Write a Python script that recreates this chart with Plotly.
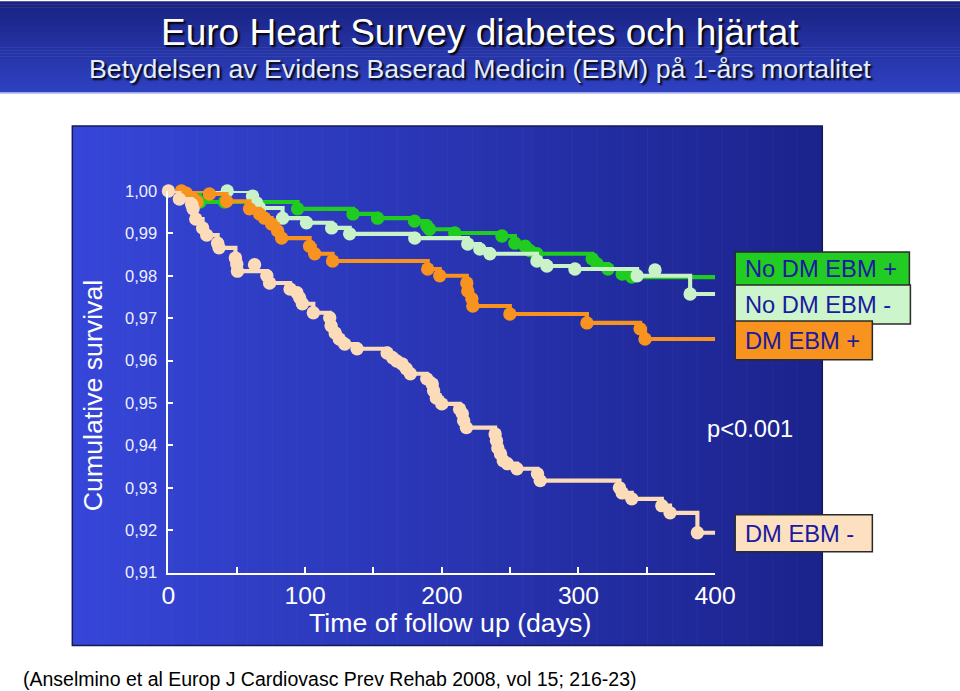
import plotly.graph_objects as go

# ---------------- data ----------------
# No DM EBM +  (bright green)
green_t = [23, 94.5, 135, 153, 180, 189, 191, 209.5, 244, 253.5, 261, 264.5, 269.6, 310, 313.6, 321.6, 332, 339]
green_s = [0.9974, 0.9958, 0.9946, 0.9936, 0.9929, 0.9918, 0.9910, 0.9901, 0.9894, 0.9877, 0.9870, 0.9859,
           0.9852, 0.9840, 0.9828, 0.9816, 0.9804, 0.9797]
green_ct = [41]
green_cs = [0.9974]

# No DM EBM -  (light green)
lgreen_t = [61.5, 64.5, 66.7, 83.5, 101, 119.4, 132.6, 180.2, 219, 227.8, 235.2, 269.6, 276.9, 297.4, 342.9, 381.7]
lgreen_s = [0.9988, 0.9972, 0.9960, 0.9936, 0.9925, 0.9913, 0.9899, 0.9889, 0.9875, 0.9863, 0.9852, 0.9835,
            0.9823, 0.9816, 0.9800, 0.9757]
lgreen_ct = [43, 356]
lgreen_cs = [1.0, 0.9814]

# DM EBM +  (orange)
orange_t = [30, 42.5, 59.3, 66.7, 70.3, 75.5, 79.9, 82.8, 103.3, 107, 120.1, 189.7, 198.5, 218.3, 219, 222, 222.7,
            249.8, 306.2, 345.1, 348.7]
orange_s = [0.9993, 0.9976, 0.9958, 0.9946, 0.9936, 0.9922, 0.9906, 0.9889, 0.9870, 0.9852, 0.9835, 0.9816, 0.9800,
            0.9783, 0.9764, 0.9746, 0.9729, 0.9710, 0.9689, 0.9675, 0.9651]
orange_ct = [9.5, 13, 17.6, 21]
orange_cs = [1.0, 0.9995, 0.9984, 0.9974]

# DM EBM -  (peach)
peach_t = [8, 17, 18, 20, 25, 28, 36, 37, 49, 50, 50.5, 72, 74, 89, 94, 96, 98, 106, 118, 119, 122, 125, 129, 138,
           160, 164, 167, 171, 174, 177, 189, 193, 194, 196, 200, 213, 215, 216, 218, 239, 240, 241, 243, 245, 248,
           255, 270, 272, 330, 332, 339, 361, 367, 387]
peach_s = [0.9981, 0.9969, 0.9958, 0.9934, 0.9913, 0.9896, 0.9877, 0.9866, 0.9842, 0.9828, 0.9811, 0.9800, 0.9783,
           0.9769, 0.9760, 0.9748, 0.9734, 0.9713, 0.9701, 0.9682, 0.9665, 0.9651, 0.9639, 0.9628, 0.9618, 0.9607,
           0.9599, 0.9592, 0.9581, 0.9569, 0.9557, 0.9545, 0.9529, 0.9512, 0.9498, 0.9486, 0.9475, 0.9458, 0.9442,
           0.9427, 0.9411, 0.9394, 0.9380, 0.9364, 0.9357, 0.9345, 0.9333, 0.9317, 0.9300, 0.9288, 0.9274, 0.9258,
           0.9241, 0.9194]
peach_ct = [0, 63]
peach_cs = [1.0, 0.9826]

follow_up_end = 400
x_tickvals = [0, 50, 100, 150, 200, 250, 300, 350, 400]
x_ticktext = ["0", "", "100", "", "200", "", "300", "", "400"]
y_tickvals = [0.91, 0.92, 0.93, 0.94, 0.95, 0.96, 0.97, 0.98, 0.99, 1.00]
y_ticktext = ["0,91", "0,92", "0,93", "0,94", "0,95", "0,96", "0,97", "0,98", "0,99", "1,00"]

groups = [
    ("No DM EBM +", green_t, green_s, green_ct, green_cs, "#1fcc1f"),
    ("No DM EBM -", lgreen_t, lgreen_s, lgreen_ct, lgreen_cs, "#c9f2c9"),
    ("DM EBM +", orange_t, orange_s, orange_ct, orange_cs, "#f7931e"),
    ("DM EBM -", peach_t, peach_s, peach_ct, peach_cs, "#fcdcb8"),
]

# ---------------- layout helpers ----------------
# The photographed page appears scaled by ~0.97 and the body keeps an 8px margin;
# positions below are given in target-picture pixels and converted.
KX, KY = 0.970, 0.975
FS = 1 / 0.972
OFF = 8
W = round(960 / KX - 2 * OFF)
H = round(691 / KY - 2 * OFF)


def PX(x):
    return (x / KX - OFF) / W


def PY(y):
    return 1 - (y / KY - OFF) / H


def fs(v):
    return round(v * FS, 1)


def mix(c1, c2, f):
    a = [int(c1[i:i + 2], 16) for i in (1, 3, 5)]
    b = [int(c2[i:i + 2], 16) for i in (1, 3, 5)]
    return "#%02x%02x%02x" % tuple(round(a[k] + (b[k] - a[k]) * f) for k in range(3))


FONT = "Liberation Sans, Arial"
fig = go.Figure()

for name, t, s, ct, cs, col in groups:
    fig.add_trace(go.Scatter(
        x=[0] + t + [follow_up_end], y=[1.0] + s + [s[-1]], mode="lines",
        line=dict(color=col, width=fs(4), shape="hv"), cliponaxis=False, showlegend=False, hoverinfo="skip"))
    fig.add_trace(go.Scatter(
        x=t + ct, y=s + cs, mode="markers", marker=dict(color=col, size=fs(13), line=dict(width=0)),
        cliponaxis=False, showlegend=False, name=name))

shapes = []
# header band (vertical gradient)
n = 30
for i in range(n):
    y0 = 92 * i / n
    y1 = 92 * (i + 1) / n + 0.5
    shapes.append(dict(type="rect", xref="paper", yref="paper", x0=PX(0), x1=PX(960), y0=PY(y1), y1=PY(y0),
                       fillcolor=mix("#1a2382", "#2e41c2", i / (n - 1)), line=dict(width=0), layer="below"))
shapes.append(dict(type="line", xref="paper", yref="paper", x0=PX(0), x1=PX(960), y0=PY(92), y1=PY(92),
                   line=dict(color="#c8d0f0", width=1.5), layer="below"))
# plot panel (horizontal gradient)
n = 60
xl, xr, yt, yb = 73, 822, 125, 645
for i in range(n):
    x0 = xl + (xr - xl) * i / n
    x1 = xl + (xr - xl) * (i + 1) / n + 0.6
    shapes.append(dict(type="rect", xref="paper", yref="paper", x0=PX(x0), x1=PX(min(x1, xr)), y0=PY(yb),
                       y1=PY(yt), fillcolor=mix("#3646d8", "#1b238c", i / (n - 1)), line=dict(width=0),
                       layer="below"))
shapes.append(dict(type="rect", xref="paper", yref="paper", x0=PX(xl), x1=PX(xr), y0=PY(yb), y1=PY(yt),
                   line=dict(color="#151a55", width=1.5), fillcolor="rgba(0,0,0,0)", layer="below"))

# legend boxes
boxes = [
    (735, 909, 251, 285, "#22cc22", "No DM EBM +", 268),
    (735, 910, 284, 323, "#ccf5cc", "No DM EBM -", 304),
    (735, 872, 320, 359, "#f7931e", "DM EBM +", 340),
    (735, 872, 514, 551, "#fde0c0", "DM EBM -", 533),
]
annotations = []
for x0, x1, y0, y1, fc, label, yc in boxes:
    shapes.append(dict(type="rect", xref="paper", yref="paper", x0=PX(x0), x1=PX(x1), y0=PY(y1), y1=PY(y0),
                       fillcolor=fc, line=dict(color="#2a2a2a", width=1.5), layer="above"))
    annotations.append(dict(xref="paper", yref="paper", x=PX(743), y=PY(yc), xanchor="left", yanchor="middle",
                            text=label, showarrow=False, font=dict(family=FONT, size=fs(23), color="#1a1aa0")))

annotations += [
    dict(xref="paper", yref="paper", x=PX(480), y=PY(31), text="Euro Heart Survey diabetes och hjärtat",
         showarrow=False, xanchor="center", yanchor="middle",
         font=dict(family=FONT, size=fs(36), color="white", shadow="2px 2px 2px #000000")),
    dict(xref="paper", yref="paper", x=PX(480), y=PY(68),
         text="Betydelsen av Evidens Baserad Medicin (EBM) på 1-års mortalitet",
         showarrow=False, xanchor="center", yanchor="middle",
         font=dict(family=FONT, size=fs(26), color="#e4ecff", shadow="2px 2px 2px #000000")),
    dict(xref="paper", yref="paper", x=PX(93), y=PY(395), text="Cumulative survival", textangle=-90,
         showarrow=False, xanchor="center", yanchor="middle",
         font=dict(family=FONT, size=fs(26), color="white")),
    dict(xref="paper", yref="paper", x=PX(450), y=PY(622), text="Time of follow up (days)",
         showarrow=False, xanchor="center", yanchor="middle",
         font=dict(family=FONT, size=fs(26), color="white")),
    dict(xref="paper", yref="paper", x=PX(705), y=PY(428), text="p<0.001", showarrow=False,
         xanchor="left", yanchor="middle", font=dict(family=FONT, size=fs(23), color="white")),
    dict(xref="paper", yref="paper", x=PX(22), y=PY(678),
         text="(Anselmino et al Europ J Cardiovasc Prev Rehab 2008, vol 15; 216-23)", showarrow=False,
         xanchor="left", yanchor="middle", font=dict(family=FONT, size=fs(19), color="black")),
]

fig.update_layout(
    width=W, height=H, margin=dict(l=0, r=0, t=0, b=0),
    paper_bgcolor="white", plot_bgcolor="rgba(0,0,0,0)",
    shapes=shapes, annotations=annotations, showlegend=False,
    xaxis=dict(range=[0, 400], domain=[PX(169), PX(715)], tickvals=x_tickvals, ticktext=x_ticktext,
               ticks="inside", ticklen=6, tickwidth=1.5, tickcolor="white", showline=True, linecolor="white",
               linewidth=2, showgrid=False, zeroline=False, ticklabelstandoff=0,
               tickfont=dict(family=FONT, size=fs(24), color="white"), fixedrange=True),
    yaxis=dict(range=[0.91, 1.0], domain=[PY(572), PY(190)], tickvals=y_tickvals, ticktext=y_ticktext,
               ticks="inside", ticklen=5, tickwidth=1.5, tickcolor="white", showline=True, linecolor="white",
               linewidth=2, showgrid=False, zeroline=False, ticklabelstandoff=6,
               tickfont=dict(family=FONT, size=fs(16), color="#eef0ff"), fixedrange=True),
)

fig.write_html("out.html")
